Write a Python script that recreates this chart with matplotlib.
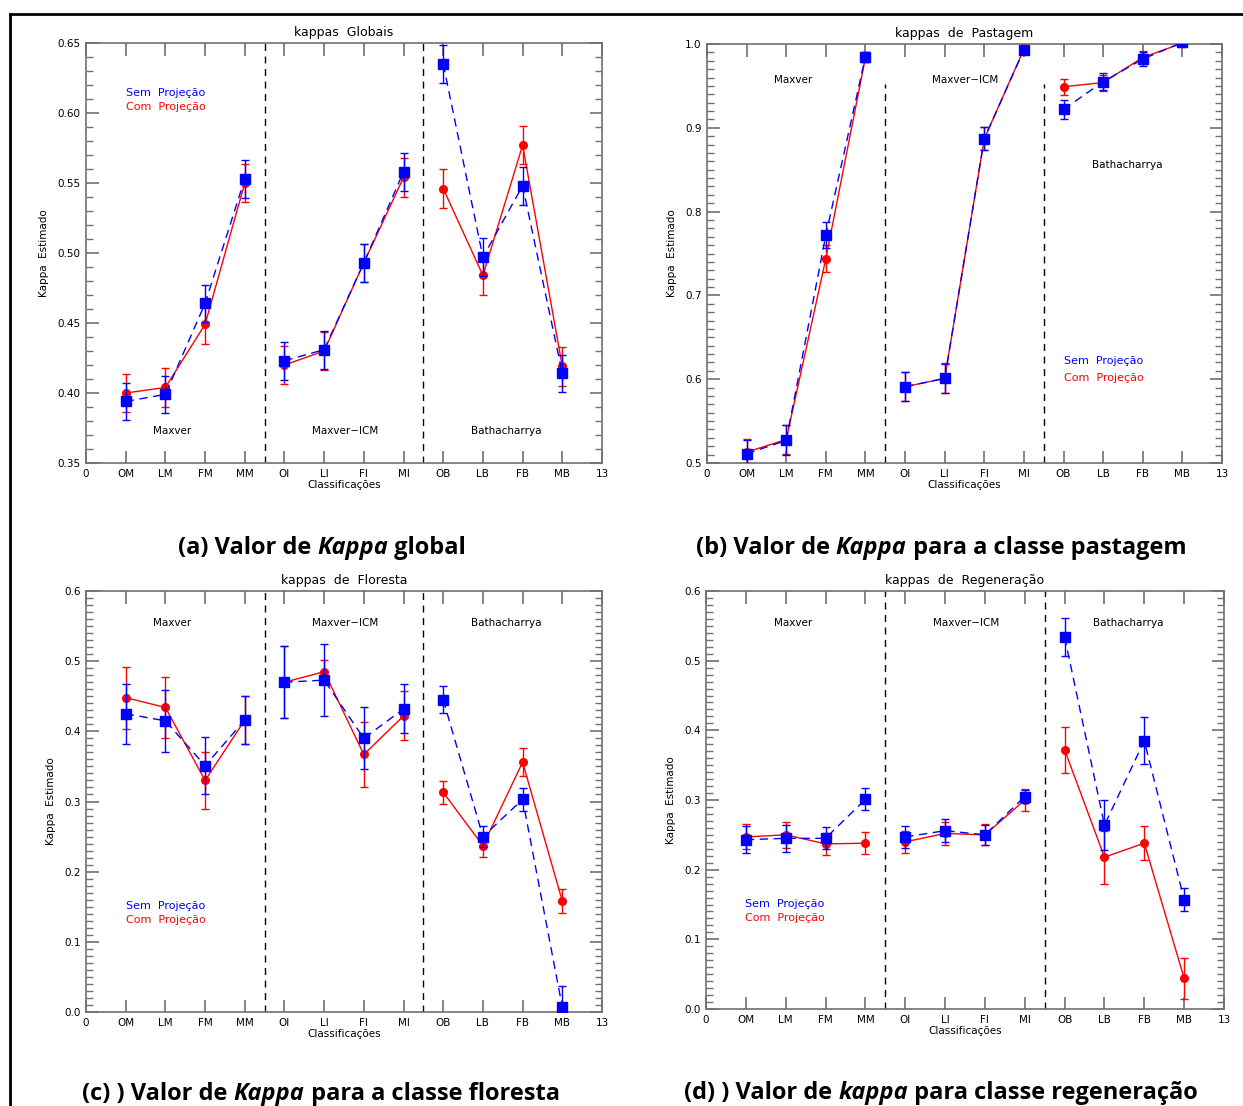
import numpy as np
import matplotlib.pyplot as plt
from matplotlib.lines import Line2D
from matplotlib.ticker import MultipleLocator, FormatStrFormatter

# classes on the x axis (positions 1..12)
classes = ["OM", "LM", "FM", "MM", "OI", "LI", "FI", "MI", "OB", "LB", "FB", "MB"]
x_labels = ["0"] + classes + ["13"]

# (a) kappa global
glob_sem = [0.394, 0.399, 0.464, 0.553, 0.423, 0.431, 0.493, 0.558, 0.635, 0.497, 0.548, 0.414]
glob_sem_err = [0.0135] * 12
glob_com = [0.400, 0.404, 0.449, 0.550, 0.420, 0.430, 0.493, 0.554, 0.546, 0.484, 0.577, 0.419]
glob_com_err = [0.0137] * 12

# (b) pastagem
past_sem = [0.511, 0.527, 0.772, 0.985, 0.591, 0.601, 0.887, 0.993, 0.922, 0.955, 0.982, 1.002]
past_sem_err = [0.017, 0.018, 0.015, 0.006, 0.0176, 0.017, 0.0136, 0.005, 0.0116, 0.010, 0.008, 0.004]
past_com = [0.513, 0.528, 0.744, 0.984, 0.591, 0.601, 0.887, 0.994, 0.949, 0.954, 0.984, 1.001]
past_com_err = [0.016, 0.017, 0.0166, 0.006, 0.0176, 0.018, 0.0136, 0.005, 0.0094, 0.0095, 0.008, 0.004]

# (c) floresta
flor_sem = [0.425, 0.415, 0.351, 0.416, 0.470, 0.473, 0.390, 0.432, 0.445, 0.250, 0.303, 0.007]
flor_sem_err = [0.043, 0.044, 0.041, 0.034, 0.051, 0.051, 0.044, 0.035, 0.019, 0.0155, 0.016, 0.030]
flor_com = [0.448, 0.434, 0.330, 0.416, 0.470, 0.485, 0.367, 0.422, 0.313, 0.237, 0.356, 0.158]
flor_com_err = [0.044, 0.044, 0.041, 0.034, 0.051, 0.017, 0.047, 0.035, 0.016, 0.016, 0.020, 0.017]

# (d) regeneracao
reg_sem = [0.243, 0.245, 0.245, 0.301, 0.247, 0.256, 0.250, 0.305, 0.534, 0.264, 0.385, 0.157]
reg_sem_err = [0.019, 0.019, 0.016, 0.016, 0.016, 0.0165, 0.014, 0.010, 0.027, 0.036, 0.0335, 0.0165]
reg_com = [0.247, 0.250, 0.237, 0.238, 0.240, 0.252, 0.250, 0.300, 0.372, 0.218, 0.238, 0.044]
reg_com_err = [0.018, 0.0187, 0.0156, 0.0155, 0.016, 0.016, 0.015, 0.016, 0.033, 0.038, 0.024, 0.029]

groups = ["Maxver", "Maxver\u2212ICM", "Bathacharrya"]

W, H = 1243, 1106
fig = plt.figure(figsize=(W / 100, H / 100), dpi=100)
plt.rcParams["font.family"] = ["DejaVu Sans"]

GRAY = "#707070"


def px_axes(left, right, top, bottom):
    return [left / W, 1 - bottom / H, (right - left) / W, (bottom - top) / H]


def make_panel(rect, title, sem, sem_err, com, com_err, ylim, major, minor, fmt,
               group_y, bath_y, leg_x, leg_y, div_top):
    ax = fig.add_axes(px_axes(*rect))
    x = np.arange(1, 13)

    # each classifier group is its own line, no link across the dividers
    for g in range(3):
        s = slice(4 * g, 4 * g + 4)
        ax.errorbar(x[s], com[s], yerr=com_err[s], color="red", lw=1, marker="o",
                    ms=5.5, capsize=3, elinewidth=1, capthick=1, zorder=3)
        ax.errorbar(x[s], sem[s], yerr=sem_err[s], color="blue", lw=1,
                    ls=(0, (6, 4)), marker="s", ms=6.5, capsize=3, elinewidth=1,
                    capthick=1, zorder=4)

    for xd in (4.5, 8.5):
        ax.plot([xd, xd], [ylim[0], div_top], color="black", lw=1,
                ls=(0, (5, 4)), zorder=2)

    ax.set_xlim(0, 13)
    ax.set_ylim(*ylim)
    ax.set_xticks(np.arange(0, 14))
    ax.set_xticklabels(x_labels)
    ax.yaxis.set_major_locator(MultipleLocator(major))
    ax.yaxis.set_minor_locator(MultipleLocator(minor))
    ax.yaxis.set_major_formatter(FormatStrFormatter(fmt))
    ax.tick_params(which="both", direction="in", top=True, right=True,
                   color=GRAY, labelsize=7.5, pad=4)
    ax.tick_params(which="major", length=9, width=1.2)
    ax.tick_params(which="minor", length=5, width=1)
    for sp in ax.spines.values():
        sp.set_color(GRAY)
        sp.set_linewidth(1.2)

    ax.set_title(title, fontsize=9, pad=5)
    ax.set_xlabel("Classifica\u00e7\u00f5es", fontsize=7.5, labelpad=1)
    ax.set_ylabel("Kappa  Estimado", fontsize=7.5, labelpad=6)

    ax.text(2.18, group_y, groups[0], fontsize=7.5, ha="center", va="center")
    ax.text(6.52, group_y, groups[1], fontsize=7.5, ha="center", va="center")
    ax.text(10.6, bath_y, groups[2], fontsize=7.5, ha="center", va="center")

    ax.text(leg_x, leg_y[0], "Sem  Proje\u00e7\u00e3o", color="blue", fontsize=8,
            ha="left", va="center")
    ax.text(leg_x, leg_y[1], "Com  Proje\u00e7\u00e3o", color="red", fontsize=8,
            ha="left", va="center")
    return ax


make_panel((86, 602, 43, 463), "kappas  Globais", glob_sem, glob_sem_err,
           glob_com, glob_com_err, (0.35, 0.65), 0.05, 0.01, "%.2f",
           0.3726, 0.3726, 1.0, (0.6142, 0.6040), 0.65)
make_panel((707, 1222, 44, 463), "kappas  de  Pastagem", past_sem, past_sem_err,
           past_com, past_com_err, (0.5, 1.0), 0.1, 0.01, "%.1f",
           0.957, 0.856, 9.0, (0.622, 0.6016), 0.952)
make_panel((86, 602, 591, 1012), "kappas  de  Floresta", flor_sem, flor_sem_err,
           flor_com, flor_com_err, (0.0, 0.6), 0.1, 0.01, "%.1f",
           0.555, 0.555, 1.0, (0.151, 0.1307), 0.6)
make_panel((706, 1224, 591, 1009), "kappas  de  Regenera\u00e7\u00e3o", reg_sem, reg_sem_err,
           reg_com, reg_com_err, (0.0, 0.6), 0.1, 0.01, "%.1f",
           0.5545, 0.5545, 0.99, (0.1512, 0.1311), 0.6)


# captions, with the word Kappa in italics
def caption(cx, cy, parts):
    renderer = fig.canvas.get_renderer()
    texts = []
    for s, style in parts:
        t = fig.text(0, 1 - cy / H, s, fontsize=17, fontweight="bold",
                     fontstyle=style, family="Open Sans", va="center", ha="left")
        texts.append(t)
    widths = [t.get_window_extent(renderer).width for t in texts]
    x0 = cx - sum(widths) / 2
    for t, w in zip(texts, widths):
        t.set_x(x0 / W)
        x0 += w


caption(322, 548, [("(a) Valor de ", "normal"), ("Kappa", "italic"), (" global", "normal")])
caption(941, 548, [("(b) Valor de ", "normal"), ("Kappa", "italic"),
                   (" para a classe pastagem", "normal")])
caption(321, 1094, [("(c) ) Valor de ", "normal"), ("Kappa", "italic"),
                    (" para a classe floresta", "normal")])
caption(941, 1093, [("(d) ) Valor de ", "normal"), ("kappa", "italic"),
                    (" para classe regenera\u00e7\u00e3o", "normal")])

# frame lines of the original page
fig.add_artist(Line2D([10 / W, 1.0], [1 - 14 / H, 1 - 14 / H], color="black", lw=2))
fig.add_artist(Line2D([10 / W, 10 / W], [1 - 14 / H, 0], color="black", lw=2))

fig.savefig("out.png", dpi=100)
